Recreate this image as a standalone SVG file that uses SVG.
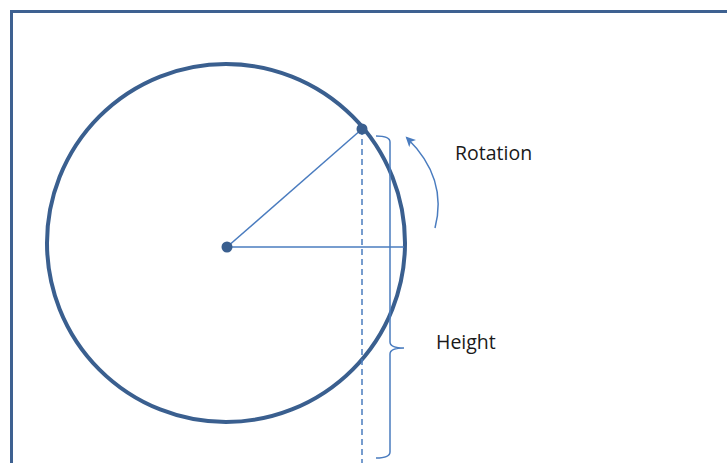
<svg xmlns="http://www.w3.org/2000/svg" width="727" height="463" viewBox="0 0 727 463">
<style>
.frame{fill:none;stroke:#3e6191;stroke-width:3}
.thin{fill:none;stroke:#4a7cbf;stroke-width:1.5}
.lbl{font-family:"Open Sans","Liberation Sans",sans-serif;font-size:19.5px;fill:#1a1a1a}
</style>
<defs>
<marker id="ah" viewBox="0 0 10 10" refX="8" refY="5" markerWidth="11" markerHeight="10" orient="auto-start-reverse" markerUnits="userSpaceOnUse">
<path d="M0,0 L10,5 L0,10 L2.5,5 z" fill="#4a7cbf"/>
</marker>
</defs>
<rect width="727" height="463" fill="#fff"/>
<path class="frame" d="M11.5,470 V11.5 H730"/>
<g id="circle">
<circle cx="226" cy="243" r="179" fill="none" stroke="#3a5f8f" stroke-width="4"/>
</g>
<g id="connectors">
<line class="thin" x1="227" y1="247" x2="404" y2="247"/>
<line class="thin" x1="227" y1="247" x2="362" y2="129" stroke-width="1.2"/>
<line class="thin" x1="362" y1="129" x2="362" y2="463" stroke-dasharray="6,4"/>
<path class="thin" d="M376,136 Q390,136 390,142 V342 Q390,348 404,348 Q390,348 390,354 V452 Q390,458 376,458"/>
<path class="thin" d="M435,228 Q448,178 407,138" stroke-width="2" marker-end="url(#ah)"/>
</g>
<g id="centerDot"><circle cx="227" cy="247" r="5.5" fill="#3a5f8f"/></g>
<g id="pointDot"><circle cx="362" cy="129" r="5.5" fill="#3a5f8f"/></g>
<g id="rotation"><text class="lbl" x="455" y="160">Rotation</text></g>
<g id="height"><text class="lbl" x="436" y="349">Height</text></g>
</svg>
